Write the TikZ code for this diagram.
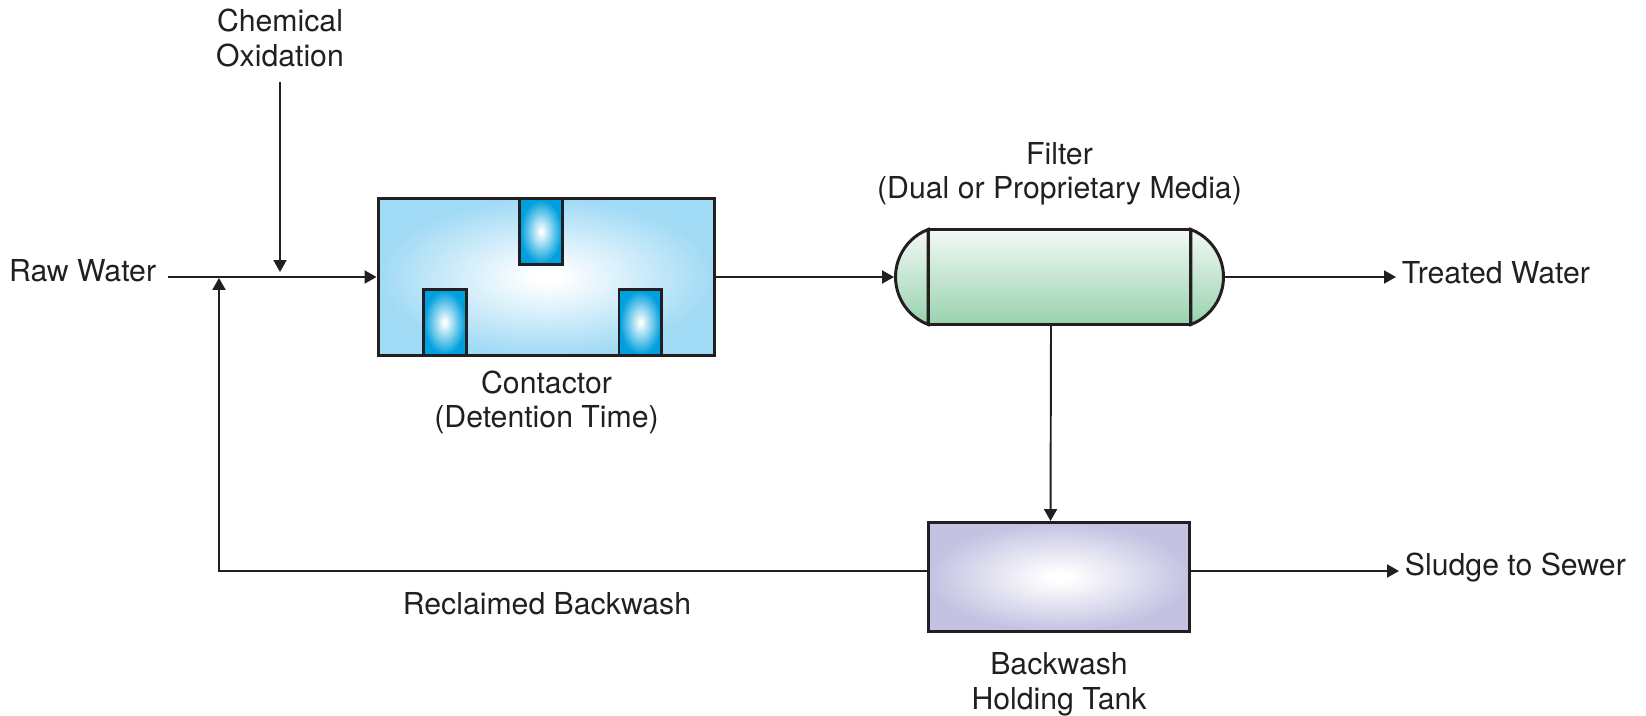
\documentclass[tikz,border=0pt]{standalone}
\usepackage{fontspec}
\setmainfont{TeX Gyre Heros}
\usepackage{tikz}
\usetikzlibrary{arrows.meta,calc,positioning}
\definecolor{ink}{HTML}{231F20}
\definecolor{contactorblue}{HTML}{A0DAF5}
\definecolor{baffleblue}{HTML}{00A0DE}
\definecolor{filtergreen}{HTML}{98D2AE}
\definecolor{filtertop}{HTML}{F3F9F5}
\definecolor{tanklilac}{HTML}{C3C2E2}

\pgfdeclareradialshading{contactorfill}{\pgfpoint{0bp}{0bp}}{color(0bp)=(white); color(2bp)=(white); color(25bp)=(contactorblue); color(50bp)=(contactorblue)}
\pgfdeclareradialshading{bafflefill}{\pgfpoint{0bp}{0bp}}{color(0bp)=(white); color(1bp)=(white); color(24bp)=(baffleblue); color(50bp)=(baffleblue)}
\pgfdeclareradialshading{tankfill}{\pgfpoint{0bp}{0bp}}{color(0bp)=(white); color(2bp)=(white); color(25bp)=(tanklilac); color(50bp)=(tanklilac)}
\pgfdeclareverticalshading{filterfill}{100bp}{color(0bp)=(filtergreen); color(25bp)=(filtergreen); color(75bp)=(filtertop); color(100bp)=(filtertop)}

\begin{document}
\begin{tikzpicture}[->,>={Triangle[length=0.24cm,width=0.26cm]},x=0.02cm,y=-0.02cm,
line width=1.1pt,color=ink,font=\fontsize{17.2}{19.5}\selectfont]
\tikzstyle{vessel}=[rectangle,draw,line width=1.7pt]
\tikzstyle{baffle}=[vessel,shading=bafflefill,minimum width=0.86cm,minimum height=1.32cm]
\tikzstyle{dome}=[-,draw,line width=1.7pt,shading=filterfill]
\tikzstyle{txt}=[align=center,inner sep=0pt]

\useasboundingbox (0,0) rectangle (1646,716);

\node[vessel,shading=contactorfill,minimum width=6.74cm,minimum height=3.14cm] (contactor) at (546.5,277) {};
\node[baffle,anchor=north] (baffletop)   at ([xshift=-0.11cm]contactor.north) {};
\node[baffle,anchor=south] (baffleleft)  at ([xshift=-2.04cm]contactor.south) {};
\node[baffle,anchor=south] (baffleright) at ([xshift=1.88cm]contactor.south) {};

% filter body with its two domed ends
\node[vessel,shading=filterfill,outer sep=0pt,minimum width=5.26cm,minimum height=1.9cm] (filter) at (1059.5,277) {};
\path[dome] (filter.north west) arc[start angle=111.2,end angle=248.8,radius=1.019cm] -- cycle;
\path[dome] (filter.south east) arc[start angle=-68.8,end angle=68.8,radius=1.019cm] -- cycle;
\coordinate (filterin)  at ([xshift=-0.68cm]filter.west);
\coordinate (filterout) at ([xshift=0.68cm]filter.east);

\node[vessel,shading=tankfill,minimum width=5.22cm,minimum height=2.18cm] (tank) at (1059,577) {};

\node[txt,anchor=east,inner xsep=0.22cm] (raw) at (168,271) {Raw Water};
\node[txt] (chem) at (280,38) {Chemical\\Oxidation};
\node[txt,anchor=west,inner xsep=0.1cm] (treated) at (1396,273) {Treated Water};
\node[txt,anchor=west,inner xsep=0.1cm] (sludge) at (1399,568) {Sludge to Sewer};
\node[txt] (reclaimed) at (547,604) {Reclaimed Backwash};
\node[txt,below=0.26cm of contactor] (contactorlbl) {Contactor\\(Detention Time)};
\node[txt,above=0.46cm of filter] (filterlbl) {Filter\\(Dual or Proprietary Media)};
\node[txt,below=0.38cm of tank] (tanklbl) {Backwash\\Holding Tank};

\coordinate (recycle) at (219,277);
\coordinate (dose) at (280,277);
\coordinate (drain) at ([yshift=0.12cm]tank.center);

\draw (raw.east |- contactor) -- (contactor);
\draw[shorten <=0.29cm,shorten >=0.1cm] (chem) -- (dose);
\draw (contactor) -- (filterin);
\draw (filterout) -- (filterout -| treated.west);
\draw ([xshift=-0.17cm]filter.south) -- ([xshift=-0.17cm]tank.north);
\draw (drain -| tank.east) -- (drain -| sludge.west);
\draw[shorten >=0.55pt] (drain -| tank.west) -| (recycle);
\end{tikzpicture}
\end{document}
